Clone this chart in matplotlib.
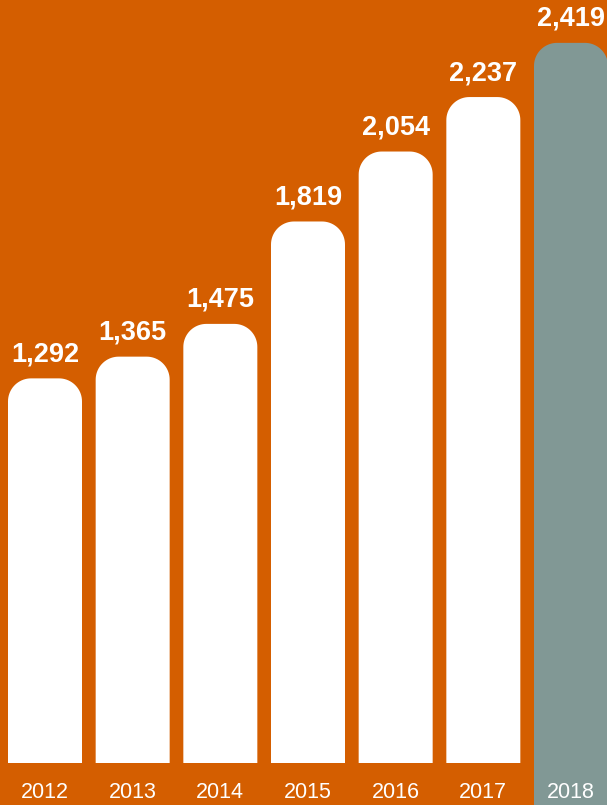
import numpy as np
import matplotlib.pyplot as plt
from matplotlib.patches import Polygon

years = ["2012", "2013", "2014", "2015", "2016", "2017", "2018"]
values = [1292, 1365, 1475, 1819, 2054, 2237, 2419]
labels = ["1,292", "1,365", "1,475", "1,819", "2,054", "2,237", "2,419"]

ORANGE = "#D45E00"
WHITE = "#FFFFFF"
GREY = "#819895"

# pixel scale of the reference: 87.67 px per bar step, 0.2977 px per unit
PX_X = 87.67
PX_Y = 0.2977
RADIUS_PX = 23
BAR_W = 74 / PX_X


def rounded_top_bar(ax, x, top, bottom, width, color):
    rx = RADIUS_PX / PX_X
    ry = RADIUS_PX / PX_Y
    left, right = x - width / 2, x + width / 2
    t = np.linspace(0, np.pi / 2, 20)
    # right corner goes from the side up to the top
    right_arc = np.column_stack([right - rx + rx * np.cos(t), top - ry + ry * np.sin(t)])
    left_arc = np.column_stack([left + rx - rx * np.cos(t[::-1]), top - ry + ry * np.sin(t[::-1])])
    pts = np.vstack([[[right, bottom]], right_arc, left_arc, [[left, bottom]]])
    ax.add_patch(Polygon(pts, closed=True, facecolor=color, edgecolor="none"))


fig = plt.figure(figsize=(6.07, 8.05), dpi=100)
fig.patch.set_facecolor(ORANGE)
ax = fig.add_axes([0, 0, 1, 1])
ax.set_facecolor(ORANGE)

y_bottom = -42 / PX_Y
y_top = 763 / PX_Y
ax.set_xlim(-45 / PX_X, 6 + 36 / PX_X)
ax.set_ylim(y_bottom, y_top)
ax.axis("off")

for i, (val, lab) in enumerate(zip(values, labels)):
    last = i == len(values) - 1
    color = GREY if last else WHITE
    base = y_bottom if last else 0
    rounded_top_bar(ax, i, val, base, BAR_W, color)
    ax.text(i, val + 11 / PX_Y, lab, ha="center", va="bottom",
            fontsize=19.5, fontweight="bold", color="white", family="Liberation Sans")
    ax.text(i, -29.5 / PX_Y, years[i], ha="center", va="center",
            fontsize=15.5, color="white", family="Liberation Sans")

fig.savefig("out.png", dpi=100, facecolor=ORANGE)
